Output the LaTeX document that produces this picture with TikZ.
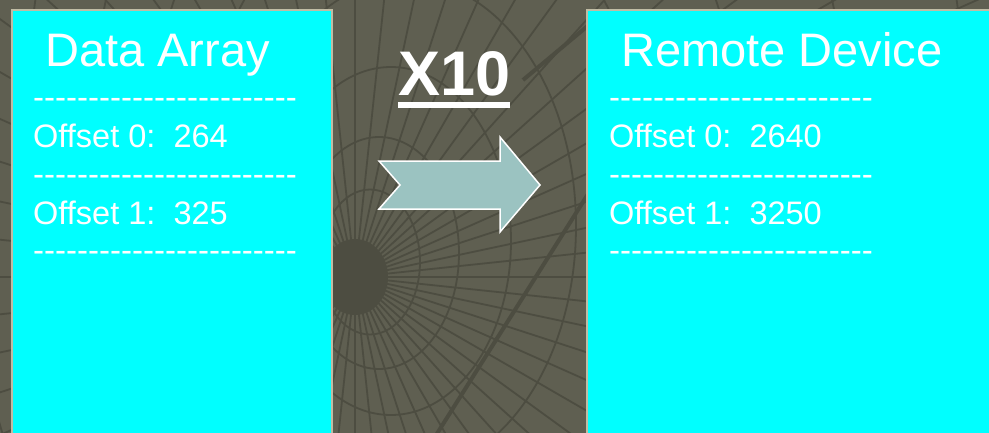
\documentclass[tikz,border=0pt]{standalone}
\usepackage{fontspec}
\setmainfont{Liberation Sans}[Ligatures=TeXOff]
\definecolor{bgc}{RGB}{95,95,81}
\definecolor{gridc}{RGB}{77,77,65}
\definecolor{bordc}{RGB}{192,188,164}
\definecolor{boxc}{RGB}{0,255,255}
\definecolor{arrc}{RGB}{155,195,193}
\begin{document}
\begin{tikzpicture}[x=1pt,y=-1pt,
  gridline/.style={draw=gridc,line width=1.8pt},
  panel/.style={draw=bordc,line width=2pt,fill=boxc},
  title/.style={text=white,inner sep=0pt,anchor=base west,font=\fontsize{47}{56}\selectfont},
  body/.style={text=white,inner sep=0pt,anchor=base west,font=\fontsize{32.5}{39}\selectfont},
  rule/.style={text=white,inner sep=0pt,anchor=base west,font=\fontsize{33}{39}\selectfont},
  factor/.style={text=white,inner sep=0pt,anchor=base west,font=\bfseries\fontsize{63}{75}\selectfont}]
\useasboundingbox (0,0) rectangle (989,432);
\begin{scope}
\clip (0,0) rectangle (989,432);
\fill[bgc] (-5,-5) rectangle (995,440);
\coordinate (c) at (355,277);
\foreach \a in {0,6,...,354} \draw[gridline] (c) -- ++(\a:1400);
\foreach \r in {50,80,120,170,230,300,380,470,570,680}
  \draw[gridline] ({355+0.3*\r},{277-0.3*\r}) ellipse [x radius=\r, y radius={1.45*\r}];
\fill[gridc] (c) ellipse [x radius=33, y radius=38];
\draw[draw=gridc,line width=4pt] (433,440) -- (600,175);
\draw[draw=gridc,line width=4pt] (523,80) -- (590,24);
% panels
\draw[panel] (12,10) rectangle (332,450);
\draw[panel] (587,10) rectangle (995,450);
\end{scope}
% left panel text
\node[title] (lt) at (45,66) {Data Array};
\node[rule] (l1) at (33,108) {------------------------};
\node[body] (l2) at (33,147) {Offset 0:\ \ 264};
\node[rule] (l3) at (33,185) {------------------------};
\node[body] (l4) at (33,224) {Offset 1:\ \ 325};
\node[rule] (l5) at (33,261) {------------------------};
% right panel text
\node[title] (rt) at (621,66) {Remote Device};
\node[rule] (r1) at (609,108) {------------------------};
\node[body] (r2) at (609,147) {Offset 0:\ \ 2640};
\node[rule] (r3) at (609,185) {------------------------};
\node[body] (r4) at (609,224) {Offset 1:\ \ 3250};
\node[rule] (r5) at (609,261) {------------------------};
% factor
\node[factor] (x10) at (398,95) {X10};
\draw[white,line width=6pt] ([yshift=-10pt]x10.base west) -- ([yshift=-10pt]x10.base east);
% arrow
\draw[fill=arrc,draw=white,line width=1.5pt,line join=miter]
  (379,161) -- (500,161) -- (500,137) -- (540,185) -- (500,232) -- (500,209) -- (379,209) -- (400,185) -- cycle;
\end{tikzpicture}
\end{document}
